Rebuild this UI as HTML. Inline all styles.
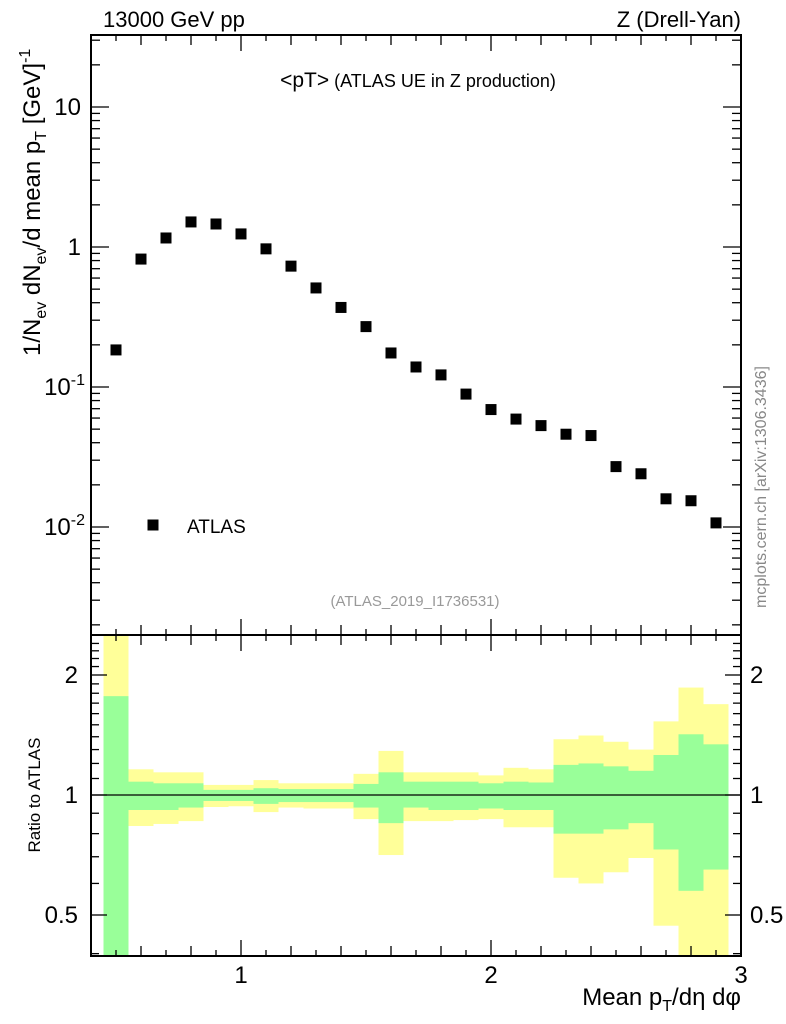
<!DOCTYPE html>
<html><head><meta charset="utf-8"><style>
html,body{margin:0;padding:0;background:#fff;}
svg{display:block;font-family:"Liberation Sans",sans-serif;}
</style></head><body>
<svg id="c" width="786" height="1024" xmlns="http://www.w3.org/2000/svg"></svg>
<script>
const xCenters=[0.5,0.6,0.7,0.8,0.9,1.0,1.1,1.2,1.3,1.4,1.5,1.6,1.7,1.8,1.9,2.0,2.1,2.2,2.3,2.4,2.5,2.6,2.7,2.8,2.9];
const atlasValues=[0.184,0.82,1.16,1.51,1.46,1.24,0.97,0.73,0.51,0.37,0.27,0.175,0.139,0.122,0.089,0.069,0.059,0.053,0.046,0.045,0.027,0.024,0.0159,0.0154,0.0107];
const yellowUp=[3,1.16,1.14,1.14,1.06,1.06,1.09,1.07,1.07,1.07,1.13,1.29,1.14,1.14,1.14,1.12,1.17,1.16,1.38,1.41,1.36,1.30,1.53,1.86,1.69];
const greenUp=[1.77,1.08,1.07,1.07,1.03,1.03,1.04,1.035,1.035,1.035,1.066,1.14,1.08,1.08,1.08,1.07,1.08,1.075,1.19,1.20,1.18,1.15,1.26,1.42,1.34];
const greenLow=[0.2,0.917,0.917,0.93,0.966,0.966,0.95,0.96,0.96,0.96,0.93,0.85,0.93,0.917,0.917,0.925,0.917,0.917,0.80,0.80,0.82,0.85,0.73,0.575,0.65];
const yellowLow=[0.2,0.836,0.846,0.86,0.933,0.937,0.906,0.93,0.925,0.925,0.87,0.707,0.86,0.86,0.865,0.87,0.83,0.83,0.62,0.60,0.64,0.695,0.47,0.2,0.2];
const mainYTicks=["10^-2","10^-1","1","10"];
const ratioTicks=[0.5,1,2];
const xTickLabels=[1,2,3];

const NS="http://www.w3.org/2000/svg";
const svg=document.getElementById('c');
const L=91,R=741,T1=35,B1=635,T2=635,B2=956;
const xMin=0.4,xMax=3.0;
const X=v=>L+(v-xMin)/(xMax-xMin)*(R-L);
const Y1=v=>247-Math.log10(v)*140;
const Y2=v=>795-Math.log2(v)*120;
function mk(tag,attrs,parent){const e=document.createElementNS(NS,tag);for(const k in attrs)e.setAttribute(k,attrs[k]);(parent||svg).appendChild(e);return e;}
function txt(s,attrs){const e=mk('text',attrs);e.textContent=s;return e;}

const defs=mk('defs',{});
const cp=mk('clipPath',{id:'rc'},defs);mk('rect',{x:L,y:T2,width:R-L,height:B2-T2},cp);
const cp1=mk('clipPath',{id:'mc'},defs);mk('rect',{x:L,y:T1,width:R-L,height:B1-T1},cp1);

const bandG=mk('g',{'clip-path':'url(#rc)'});


xCenters.forEach((c,i)=>{
  const x0=X(c-0.05),x1=X(c+0.05);
  const y=mk('rect',{x:x0,y:Y2(yellowUp[i]),width:x1-x0,height:Y2(yellowLow[i])-Y2(yellowUp[i]),fill:'#ffff99'},bandG);
  
  
  const g=mk('rect',{x:x0,y:Y2(greenUp[i]),width:x1-x0,height:Y2(greenLow[i])-Y2(greenUp[i]),fill:'#99ff99'},bandG);
  
  
});
mk('line',{x1:L,x2:R,y1:Y2(1),y2:Y2(1),stroke:'#000','stroke-width':1.3});

const f1=mk('rect',{x:L,y:T1,width:R-L,height:B1-T1,fill:'none',stroke:'#000','stroke-width':2});

const f2=mk('rect',{x:L,y:T2,width:R-L,height:B2-T2,fill:'none',stroke:'#000','stroke-width':2});


for(let k=5;k<=30;k++){
  const v=k/10,x=X(v);
  const len=(k%10===0)?16:(k%2===0?10:6);
  [[B1,-1],[T1,1],[B2,-1],[T2,1]].forEach(([y,d])=>mk('line',{x1:x,x2:x,y1:y,y2:y+d*len,stroke:'#000','stroke-width':1.3}));
}
xTickLabels.forEach(v=>{const t=txt(String(v),{x:X(v),y:983,'font-size':24,'text-anchor':'middle'});});

for(let e=-3;e<=1;e++){for(let m=1;m<=9;m++){const v=m*Math.pow(10,e);const y=Y1(v);if(y<T1||y>B1)continue;const len=m===1?18:9;
  mk('line',{x1:L,x2:L+len,y1:y,y2:y,stroke:'#000','stroke-width':1.3});mk('line',{x1:R,x2:R-len,y1:y,y2:y,stroke:'#000','stroke-width':1.3});}}
mainYTicks.forEach((s,i)=>{const v=Math.pow(10,i-2);const y=Y1(v);
  let t;
  if(s.startsWith('10^')){t=txt('',{x:L-6,y:y+8,'font-size':24,'text-anchor':'end'});
    const a=mk('tspan',{},t);a.textContent='10';const b=mk('tspan',{dy:-10,'font-size':16},t);b.textContent=s.slice(3);}
  else t=txt(s,{x:L-10,y:y+8,'font-size':24,'text-anchor':'end'});
  });

for(let v=0.4;v<=2.5;v+=0.1){const y=Y2(v);if(y<T2||y>B2)continue;const maj=ratioTicks.some(r=>Math.abs(r-v)<1e-6);const len=maj?16:8;
  mk('line',{x1:L,x2:L+len,y1:y,y2:y,stroke:'#000','stroke-width':1.3});mk('line',{x1:R,x2:R-len,y1:y,y2:y,stroke:'#000','stroke-width':1.3});}
ratioTicks.forEach(v=>{const y=Y2(v);
  const a=txt(String(v),{x:L-13,y:y+8,'font-size':24,'text-anchor':'end'});
  const b=txt(String(v),{x:R+9,y:y+8,'font-size':24});});

const pg=mk('g',{'clip-path':'url(#mc)'});

xCenters.forEach((c,i)=>{const p=mk('rect',{x:X(c)-5.5,y:Y1(atlasValues[i])-5.5,width:11,height:11,fill:'#000'},pg);
  });
</script>
<svg width="786" height="1024" style="position:absolute;left:0;top:0" xmlns="http://www.w3.org/2000/svg" font-family="Liberation Sans, sans-serif">
<text x="103" y="27" font-size="22">13000 GeV pp</text>
<text x="741" y="27" font-size="22" text-anchor="end">Z (Drell-Yan)</text>
<text x="418" y="87" font-size="18" text-anchor="middle"><tspan font-size="21">&lt;pT&gt;</tspan> (ATLAS UE in Z production)</text>
<rect x="147.5" y="519.5" width="11" height="11" fill="#000"/>
<text x="187" y="533" font-size="19">ATLAS</text>
<text x="415" y="606" font-size="15" fill="#999" text-anchor="middle">(ATLAS_2019_I1736531)</text>
<text transform="translate(766,487) rotate(-90)" font-size="16" fill="#888" text-anchor="middle">mcplots.cern.ch [arXiv:1306.3436]</text>
<text transform="translate(40,356) rotate(-90)" font-size="24" text-anchor="start">1/N<tspan font-size="16" dy="6">ev</tspan><tspan dy="-6"> dN</tspan><tspan font-size="16" dy="6">ev</tspan><tspan dy="-6">/d mean p</tspan><tspan font-size="16" dy="6">T</tspan><tspan dy="-6"> [GeV]</tspan><tspan font-size="16" dy="-10">-1</tspan></text>
<text transform="translate(40,795) rotate(-90)" font-size="17" text-anchor="middle">Ratio to ATLAS</text>
<text x="741" y="1005" font-size="24" text-anchor="end">Mean p<tspan font-size="16" dy="6">T</tspan><tspan dy="-6">/dη dφ</tspan></text>
</svg>
</body></html>
